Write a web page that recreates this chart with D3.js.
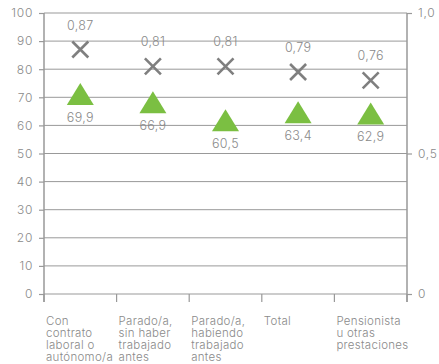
<!DOCTYPE html>
<html>
<head>
<meta charset="utf-8">
<script src="https://cdn.jsdelivr.net/npm/d3@7"></script>
<style>
  html, body { margin: 0; padding: 0; background: #ffffff; }
  svg { display: block; font-family: Inter, "Noto Sans", sans-serif; font-weight: 300; }
</style>
</head>
<body>
<svg id="chart" width="439" height="364"></svg>
<script>
// Categories (multi-line labels)
const categories = [
  ["Con", "contrato", "laboral o", "autónomo/a"],
  ["Parado/a,", "sin haber", "trabajado", "antes"],
  ["Parado/a,", "habiendo", "trabajado", "antes"],
  ["Total"],
  ["Pensionista", "u otras", "prestaciones"]
];
// Left-axis series (triangles)
const triangleValues = [69.9, 66.9, 60.5, 63.4, 62.9];
// Right-axis series (crosses)
const crossValues = [0.87, 0.81, 0.81, 0.79, 0.76];
// Tick values
const leftTicks = [0, 10, 20, 30, 40, 50, 60, 70, 80, 90, 100];
const rightTicks = [0, 0.5, 1.0];

const svg = d3.select("#chart");
const plotL = 44, plotR = 407, plotT = 13, plotB = 294;
const textColor = "#8a8a8a";
const lineColor = "#999999";
const fmt = v => d3.format(".1f")(v).replace(".", ",");
const fmt2 = v => d3.format(".2f")(v).replace(".", ",");

const x = d3.scaleBand().domain(d3.range(categories.length)).range([plotL, plotR]).padding(0);
const yL = d3.scaleLinear().domain([0, 100]).range([plotB, plotT]);
const yR = d3.scaleLinear().domain([0, 1]).range([plotB, plotT]);

// Horizontal gridlines
svg.append("g").selectAll("line").data(leftTicks).join("line")
  .attr("x1", plotL).attr("x2", plotR)
  .attr("y1", d => yL(d)).attr("y2", d => yL(d))
  .attr("stroke", lineColor).attr("stroke-width", 1);

// Left axis
const gL = svg.append("g").attr("transform", `translate(${plotL},0)`)
  .call(d3.axisLeft(yL).tickValues(leftTicks).tickSize(5).tickPadding(6));
// Right axis
const gR = svg.append("g").attr("transform", `translate(${plotR},0)`)
  .call(d3.axisRight(yR).tickValues(rightTicks).tickSize(5).tickPadding(6)
    .tickFormat(d => d === 0 ? "0" : d3.format(".1f")(d).replace(".", ",")));
// Bottom axis: ticks at band boundaries
const bounds = d3.range(categories.length + 1).map(i => plotL + i * x.bandwidth());
svg.append("g").selectAll("line").data(bounds).join("line")
  .attr("x1", d => d).attr("x2", d => d)
  .attr("y1", plotB).attr("y2", plotB + 8)
  .attr("stroke", lineColor).attr("stroke-width", 1.2);

[gL, gR].forEach(g => {
  g.select(".domain").remove();
  g.selectAll(".tick line").attr("stroke", lineColor).attr("stroke-width", 1.2);
  g.selectAll(".tick text").attr("fill", textColor).attr("font-size", 12)
    .attr("letter-spacing", 0.7)
    .attr("font-family", "Inter, 'Noto Sans', sans-serif");
});
// Vertical axis lines
[plotL, plotR].forEach(xx => {
  svg.append("line").attr("x1", xx).attr("x2", xx)
    .attr("y1", plotT).attr("y2", plotB + 8)
    .attr("stroke", lineColor).attr("stroke-width", 1.5);
});

// Category labels
const catG = svg.append("g");
categories.forEach((lines, i) => {
  const t = catG.append("text")
    .attr("x", x(i) + 2).attr("y", plotB + 31)
    .attr("fill", textColor).attr("font-size", 11.5).attr("letter-spacing", 0.3);
  lines.forEach((ln, j) => {
    t.append("tspan").attr("x", x(i) + 2).attr("dy", j === 0 ? 0 : 12).text(ln);
  });
});

const cx = i => x(i) + x.bandwidth() / 2;

// Triangles (centroid at value)
const triW = 27, triH = 22;
svg.append("g").selectAll("path").data(triangleValues).join("path")
  .attr("d", (d, i) => {
    const c = cx(i), cy = yL(d);
    return `M${c},${cy - triH * 2 / 3}L${c + triW / 2},${cy + triH / 3}L${c - triW / 2},${cy + triH / 3}Z`;
  })
  .attr("fill", "#7bbf42");
svg.append("g").selectAll("text").data(triangleValues).join("text")
  .attr("x", (d, i) => cx(i)).attr("y", d => yL(d) + 24)
  .attr("text-anchor", "middle").attr("fill", textColor).attr("font-size", 12.5)
  .attr("letter-spacing", 0.3)
  .text(fmt);

// Crosses
const cr = 8;
const crossG = svg.append("g");
crossValues.forEach((d, i) => {
  const c = cx(i), cy = yR(d);
  crossG.append("path")
    .attr("d", `M${c - cr},${cy - cr}L${c + cr},${cy + cr}M${c - cr},${cy + cr}L${c + cr},${cy - cr}`)
    .attr("stroke", "#7f7f7f").attr("stroke-width", 2.6).attr("fill", "none");
});
svg.append("g").selectAll("text").data(crossValues).join("text")
  .attr("x", (d, i) => cx(i)).attr("y", d => yR(d) - 20)
  .attr("text-anchor", "middle").attr("fill", textColor).attr("font-size", 12.5)
  .attr("letter-spacing", 0.3)
  .text(fmt2);
</script>
</body>
</html>
